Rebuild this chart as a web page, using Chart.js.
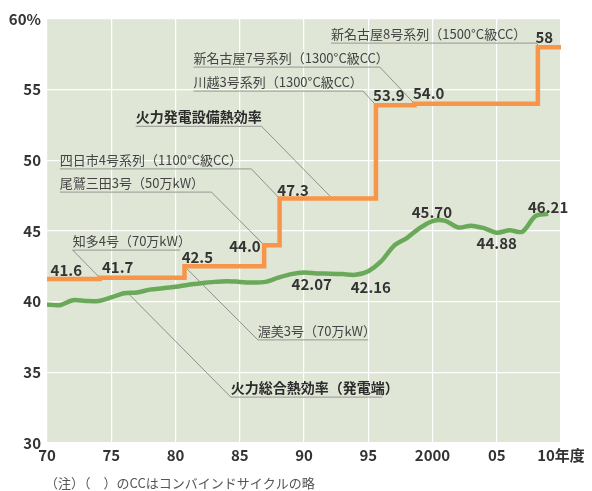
<!DOCTYPE html>
<html lang="ja">
<head>
<meta charset="utf-8">
<title>火力発電熱効率の推移</title>
<script src="https://cdn.jsdelivr.net/npm/chart.js@4.4.1/dist/chart.umd.min.js"></script>
<style>
  html, body { margin: 0; padding: 0; background: #fff; }
  canvas { display: block; }
</style>
</head>
<body>
<canvas id="effChart" width="592" height="491"></canvas>
<script>
// 火力発電設備熱効率（階段）と火力総合熱効率（発電端）の推移

const xTickLabels = ["70", "75", "80", "85", "90", "95", "2000", "05", "10年度"];
const yTickLabels = ["30", "35", "40", "45", "50", "55", "60%"];

// 設備熱効率：新鋭機が入った年度とその値
const stepYears = [1970, 1974.1, 1980.7, 1986.9, 1988.1, 1995.6, 1998.6, 2008.2, 2010];
const stepValues = [41.6, 41.7, 42.5, 44.0, 47.3, 53.9, 54.0, 58, 58];

// 総合熱効率（発電端）
const totalYears = [
  1970, 1971, 1972, 1973, 1974, 1975, 1976, 1977, 1978, 1979,
  1980, 1981, 1982, 1983, 1984, 1985, 1986, 1987, 1988, 1989,
  1990, 1991, 1992, 1993, 1994, 1995, 1996, 1997, 1998, 1999,
  2000, 2001, 2002, 2003, 2004, 2005, 2006, 2007, 2008, 2009,
];
const totalValues = [
  39.8, 39.75, 40.1, 40.05, 40.05, 40.3, 40.6, 40.65, 40.85, 40.95,
  41.05, 41.2, 41.3, 41.4, 41.45, 41.4, 41.35, 41.4, 41.7, 41.95,
  42.07, 42.0, 41.98, 41.95, 41.9, 42.16, 42.85, 43.95, 44.5, 45.2,
  45.7, 45.72, 45.25, 45.38, 45.2, 44.88, 45.05, 44.95, 46.05, 46.21,
];

// 数値ラベル（文字列とその中心の年度・値）
const valueTexts = ["41.6", "41.7", "42.5", "44.0", "47.3", "53.9", "54.0", "58",
  "45.70", "46.21", "44.88", "42.16", "42.07"];
const valueTextYears = [1971.5, 1975.5, 1981.7, 1985.4, 1989.15, 1996.6, 1999.7, 2008.7,
  1999.95, 2009.0, 2005.0, 1995.2, 1990.6];
const valueTextLevels = [42.25, 42.4, 43.15, 43.9, 47.9, 54.6, 54.75, 58.7,
  46.35, 46.7, 44.1, 41.05, 41.2];

// 引き出し線つきの注記
const notes = [
  { text: "新名古屋8号系列（1500°C級CC）", x0: 1992.1, x1: 2008.1, y: 58.3, to: [2008.3, 58.0], from: "right" },
  { text: "新名古屋7号系列（1300°C級CC）", x0: 1981.4, x1: 1995.9, y: 56.6, to: [1998.6, 54.0], from: "right" },
  { text: "川越3号系列（1300°C級CC）", x0: 1981.4, x1: 1994.6, y: 54.9, to: [1995.6, 53.9], from: "right" },
  { text: "火力発電設備熱効率", x0: 1976.9, x1: 1986.7, y: 52.4, to: [1992.2, 47.3], from: "right", bold: true },
  { text: "四日市4号系列（1100°C級CC）", x0: 1971.0, x1: 1985.9, y: 49.4, to: [1988.1, 47.3], from: "right" },
  { text: "尾鷲三田3号（50万kW）", x0: 1971.0, x1: 1982.8, y: 47.75, to: [1986.9, 44.0], from: "right" },
  { text: "知多4号（70万kW）", x0: 1972.0, x1: 1980.35, y: 43.65, to: [1974.1, 41.7], from: "left" },
  { text: "渥美3号（70万kW）", x0: 1986.4, x1: 1995.0, y: 37.3, to: [1980.7, 42.5], from: "left" },
  { text: "火力総合熱効率（発電端）", x0: 1984.3, x1: 1996.1, y: 33.25, to: [1976.3, 40.6], from: "left", bold: true },
];

const FONT = "'Noto Sans CJK JP', 'Noto Sans', sans-serif";
const BG = "#dfe6d6";
const ORANGE = "#f7954a";
const GREEN = "#6aa95a";

const plotBackground = {
  id: "plotBackground",
  beforeDraw(chart) {
    const { ctx, chartArea: a } = chart;
    ctx.save();
    ctx.fillStyle = BG;
    ctx.fillRect(a.left, a.top, a.right - a.left, a.bottom - a.top);
    ctx.restore();
  },
};

const leaderLines = {
  id: "leaderLines",
  beforeDatasetsDraw(chart) {
    const { ctx } = chart;
    const xs = chart.scales.x, ys = chart.scales.y;
    ctx.save();
    notes.forEach((n) => {
      const x0 = xs.getPixelForValue(n.x0);
      const x1 = xs.getPixelForValue(n.x1);
      const y = ys.getPixelForValue(n.y);
      const tx = xs.getPixelForValue(n.to[0]);
      const ty = ys.getPixelForValue(n.to[1]);
      // 下線
      ctx.strokeStyle = "#a3a8a0";
      ctx.lineWidth = 1.2;
      ctx.beginPath();
      ctx.moveTo(x0, y);
      ctx.lineTo(x1, y);
      ctx.stroke();
      // 引き出し線
      ctx.strokeStyle = "#6b6b6b";
      ctx.lineWidth = 0.7;
      ctx.beginPath();
      if (n.from === "right") {
        ctx.moveTo(x1, y);
      } else {
        ctx.moveTo(x0, y);
      }
      ctx.lineTo(tx, ty);
      ctx.stroke();
    });
    ctx.restore();
  },
  afterDatasetsDraw(chart) {
    const { ctx } = chart;
    const xs = chart.scales.x, ys = chart.scales.y;
    ctx.save();
    ctx.textBaseline = "alphabetic";
    ctx.textAlign = "left";
    notes.forEach((n) => {
      ctx.font = (n.bold ? "bold 14px " : "13px ") + FONT;
      ctx.fillStyle = n.bold ? "#2b2b2b" : "#444";
      ctx.fillText(n.text, xs.getPixelForValue(n.x0), ys.getPixelForValue(n.y) - 4);
    });
    // 数値
    ctx.font = "bold 15px " + FONT;
    ctx.fillStyle = "#333";
    ctx.textAlign = "center";
    ctx.textBaseline = "middle";
    valueTexts.forEach((t, i) => {
      ctx.fillText(t, xs.getPixelForValue(valueTextYears[i]), ys.getPixelForValue(valueTextLevels[i]));
    });
    ctx.restore();
  },
  afterDraw(chart) {
    const { ctx } = chart;
    ctx.save();
    ctx.font = "13px " + FONT;
    ctx.fillStyle = "#555";
    ctx.textAlign = "left";
    ctx.textBaseline = "middle";
    ctx.fillText("（注）（　）のCCはコンバインドサイクルの略", 45, 483);
    ctx.restore();
  },
};

new Chart(document.getElementById("effChart"), {
  type: "line",
  data: {
    datasets: [
      {
        label: "火力発電設備熱効率",
        data: stepYears.map((x, i) => ({ x: x, y: stepValues[i] })),
        borderColor: ORANGE,
        borderWidth: 4.5,
        stepped: "before",
        borderJoinStyle: "miter",
        pointRadius: 0,
      },
      {
        label: "火力総合熱効率（発電端）",
        data: totalYears.map((x, i) => ({ x: x, y: totalValues[i] })),
        borderColor: GREEN,
        borderWidth: 4.5,
        tension: 0.3,
        borderJoinStyle: "round",
        pointRadius: 0,
      },
    ],
  },
  options: {
    responsive: false,
    animation: false,
    layout: { padding: { top: 19, right: 31, left: 0, bottom: 0 } },
    plugins: {
      legend: { display: false },
      tooltip: { enabled: false },
    },
    scales: {
      x: {
        type: "linear",
        min: 1970,
        max: 2010,
        afterFit: (s) => { s.height = 48; },
        afterBuildTicks: (s) => {
          s.ticks = xTickLabels.map((_, i) => ({ value: 1970 + i * 5 }));
        },
        ticks: {
          padding: 3,
          maxRotation: 0,
          autoSkip: false,
          color: "#333",
          font: { family: FONT, size: 15, weight: "bold" },
          callback: (v, i) => xTickLabels[i],
        },
        grid: { color: "#ffffff", lineWidth: 1.2, drawTicks: false },
        border: { display: false },
      },
      y: {
        min: 30,
        max: 60,
        afterFit: (s) => { s.width = 47; },
        afterBuildTicks: (s) => {
          s.ticks = yTickLabels.map((_, i) => ({ value: 30 + i * 5 }));
        },
        ticks: {
          padding: 6,
          color: "#333",
          font: { family: FONT, size: 15, weight: "bold" },
          callback: (v, i) => yTickLabels[i],
        },
        grid: { color: "#ffffff", lineWidth: 1.2, drawTicks: false },
        border: { display: false },
      },
    },
  },
  plugins: [plotBackground, leaderLines],
});
</script>
</body>
</html>
